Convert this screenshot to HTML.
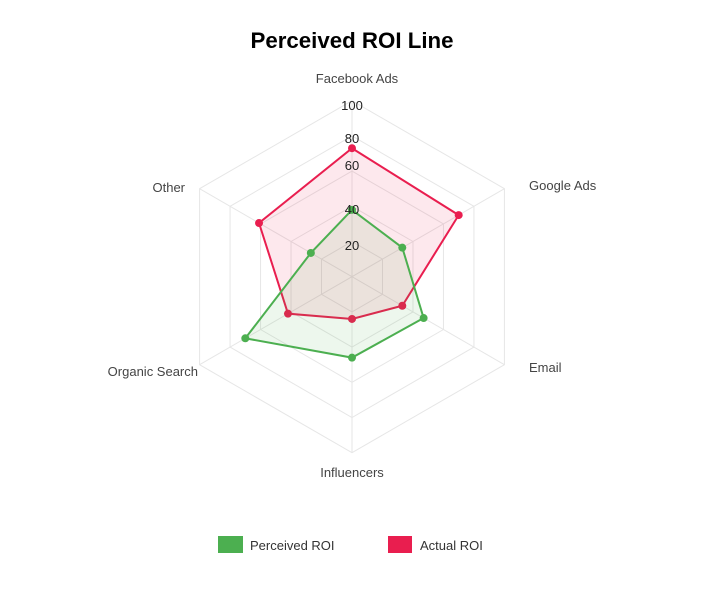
<!DOCTYPE html>
<html><head><meta charset="utf-8"><style>
body{margin:0;background:#fff;}
svg{display:block;font-family:"Liberation Sans",Arial,sans-serif;}
</style></head><body>
<svg width="704" height="593" viewBox="0 0 704 593" xmlns="http://www.w3.org/2000/svg">
<rect width="704" height="593" fill="#fff"/>
<text x="352" y="48" text-anchor="middle" font-size="22" font-weight="bold" fill="#000" textLength="203" lengthAdjust="spacingAndGlyphs">Perceived ROI Line</text>
<g id="grid" stroke="#e6e6e6" stroke-width="1" fill="none"></g>
<g id="data"></g>
<g font-size="13" fill="#444">
<text x="357" y="83" text-anchor="middle">Facebook Ads</text>
<text x="529" y="190">Google Ads</text>
<text x="529" y="372">Email</text>
<text x="352" y="477" text-anchor="middle">Influencers</text>
<text x="198" y="376" text-anchor="end">Organic Search</text>
<text x="185" y="192" text-anchor="end">Other</text>
</g>
<g font-size="13" fill="#222" text-anchor="middle" id="ticks"></g>
<rect x="218" y="536" width="25" height="17" fill="#4caf50"/>
<text x="250" y="550" font-size="13" fill="#333">Perceived ROI</text>
<rect x="388" y="536" width="24" height="17" fill="#e91e4f"/>
<text x="420" y="550" font-size="13" fill="#333">Actual ROI</text>
<script>
(function(){
var cx=352,cy=276.7,R=176,ns="http://www.w3.org/2000/svg";
function pt(i,v){var a=-Math.PI/2+i*Math.PI/3;var r=R*v/100;return [cx+r*Math.cos(a),cy+r*Math.sin(a)];}
var g=document.getElementById('grid');
for(var l=1;l<=5;l++){var p=[];for(var i=0;i<6;i++)p.push(pt(i,l*20).join(','));var e=document.createElementNS(ns,'polygon');e.setAttribute('points',p.join(' '));g.appendChild(e);}
for(var i=0;i<6;i++){var q=pt(i,100);var e=document.createElementNS(ns,'line');e.setAttribute('x1',cx);e.setAttribute('y1',cy);e.setAttribute('x2',q[0]);e.setAttribute('y2',q[1]);g.appendChild(e);}
var d=document.getElementById('data');
function series(vals,col,fill){var p=vals.map(function(v,i){return pt(i,v);});
var e=document.createElementNS(ns,'polygon');e.setAttribute('points',p.map(function(x){return x.join(',')}).join(' '));e.setAttribute('fill',fill);e.setAttribute('stroke',col);e.setAttribute('stroke-width','2');d.appendChild(e);
p.forEach(function(x){var c=document.createElementNS(ns,'circle');c.setAttribute('cx',x[0]);c.setAttribute('cy',x[1]);c.setAttribute('r','4');c.setAttribute('fill',col);d.appendChild(c);});}
series([73,70,33,24,42,61],'#e91e4f','rgba(233,30,79,0.1)');
series([38,33,47,46,70,27],'#4caf50','rgba(76,175,80,0.1)');
var t=document.getElementById('ticks');
[[20,250],[40,214],[60,170],[80,143],[100,110]].forEach(function(a){var e=document.createElementNS(ns,'text');e.setAttribute('x',352);e.setAttribute('y',a[1]);e.textContent=a[0];t.appendChild(e);});
})();
</script>
</svg>
</body></html>
